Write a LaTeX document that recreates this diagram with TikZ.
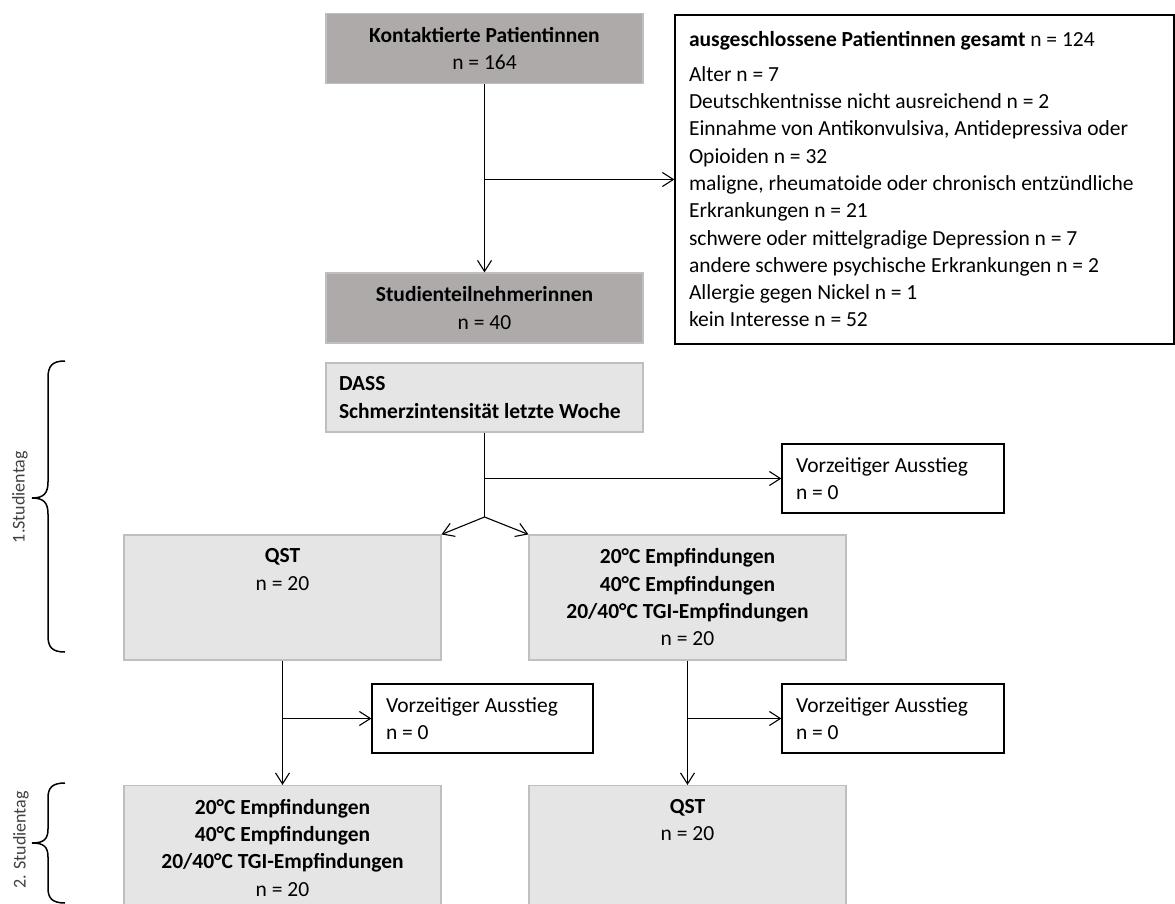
\documentclass[tikz,border=0pt]{standalone}
\usepackage{fontspec}
\setmainfont{Carlito}
\usetikzlibrary{positioning,arrows.meta}
\definecolor{darkfill}{HTML}{AEAAAA}
\definecolor{lightfill}{HTML}{E5E5E5}
\definecolor{boxline}{HTML}{BFBFBF}
\definecolor{daytext}{HTML}{404040}

\begin{document}
\begin{tikzpicture}[x=1pt,y=-1pt,
	every node/.style={font=\fontsize{21.5}{27.3}\selectfont},
	plainspace/.style={execute at begin node={\spaceskip=0pt\relax}},
	darkbox/.style={draw=boxline,line width=1.2pt,fill=darkfill,minimum width=317pt,minimum height=70pt,align=center,inner sep=0pt},
	lightbox/.style={draw=boxline,line width=1.2pt,fill=lightfill,minimum width=317pt,minimum height=125pt,inner sep=0pt},
	whitebox/.style={draw,line width=1.2pt,fill=white,align=left,plainspace,inner xsep=14pt,inner ysep=0pt},
	boxtext/.style={align=center,inner sep=0pt},
	arr/.style={-{Straight Barb[length=11pt,width=14pt]},line width=1.1pt},
	conn/.style={line width=1.1pt},
	daylabel/.style={rotate=90,text=daytext,font=\fontsize{18}{22}\selectfont},
	brace/.style={line width=1.5pt}]

		\clip (0,0) rectangle (1175,904);

		% recruitment
		\node[darkbox] (kontakt) at (484.5,48.5) {\textbf{Kontaktierte Patientinnen}\\n = 164};
		\node[darkbox] (teiln) at (484.5,308) {\textbf{Studienteilnehmerinnen}\\n = 40};
		\node[whitebox,text width=471pt,minimum height=329pt] (excl) at (924.5,179.5) {\textbf{ausgeschlossene Patientinnen gesamt} n = 124\\[7pt]
			Alter n = 7\\
			Deutschkentnisse nicht ausreichend n = 2\\
			Einnahme von Antikonvulsiva, Antidepressiva oder\\
			Opioiden n = 32\\
			maligne, rheumatoide oder chronisch entzündliche\\
			Erkrankungen n = 21\\
			schwere oder mittelgradige Depression n = 7\\
			andere schwere psychische Erkrankungen n = 2\\
			Allergie gegen Nickel n = 1\\
			kein Interesse n = 52};

		% day 1
		\node[lightbox,minimum height=69pt,align=left,plainspace,text width=291pt,inner xsep=13pt] (dass) at (484.5,397.5) {\textbf{DASS}\\\textbf{Schmerzintensität letzte Woche}};
		\node[whitebox,text width=194pt,minimum height=69pt] (drop1) at (893,478.5) {Vorzeitiger Ausstieg\\n = 0};
		\coordinate (fork) at (484.5,517);

		\node[lightbox] (qst1) at (282.5,597.5) {};
		\node[lightbox] (temp1) at (687.5,597.5) {};
		\node[boxtext,below=14pt of qst1.north] (qst1text) {\textbf{QST}\\n = 20};
		\node[boxtext,below=14pt of temp1.north] (temp1text) {\textbf{20°C Empfindungen}\\\textbf{40°C Empfindungen}\\\textbf{20/40°C TGI-Empfindungen}\\n = 20};

		% day 2
		\node[whitebox,text width=193pt,minimum height=69pt] (drop2) at (482.5,718.5) {Vorzeitiger Ausstieg\\n = 0};
		\node[whitebox,text width=194pt,minimum height=69pt] (drop3) at (893,718.5) {Vorzeitiger Ausstieg\\n = 0};

		\node[lightbox] (temp2) at (282.5,848) {};
		\node[lightbox] (qst2) at (687.5,848) {};
		\node[boxtext,below=14pt of temp2.north] (temp2text) {\textbf{20°C Empfindungen}\\\textbf{40°C Empfindungen}\\\textbf{20/40°C TGI-Empfindungen}\\n = 20};
		\node[boxtext,below=14pt of qst2.north] (qst2text) {\textbf{QST}\\n = 20};

		\draw[arr] (kontakt) -- (teiln);
		\draw[arr] (kontakt.south |- excl.west) -- (excl.west);
		\draw[conn] (dass) -- (fork);
		\draw[arr] (fork) -- (qst1.north east);
		\draw[arr] (fork) -- (temp1.north west);
		\draw[arr] (dass.south |- drop1.west) -- (drop1.west);
		\draw[arr] (qst1) -- (temp2);
		\draw[arr] (qst1.south |- drop2.west) -- (drop2.west);
		\draw[arr] (temp1) -- (qst2);
		\draw[arr] (temp1.south |- drop3.west) -- (drop3.west);

		% braces
		\draw[brace] (65,361) .. controls (52,361) and (48,366) .. (48,378) -- (48,482) .. controls (48,493) and (44,498) .. (32,498) .. controls (44,498) and (48,503) .. (48,514) -- (48,636) .. controls (48,647) and (52,652) .. (65,652);
		\draw[brace] (65,783) .. controls (52,783) and (48,788) .. (48,798) -- (48,829) .. controls (48,839) and (44,843) .. (32,843) .. controls (44,843) and (48,847) .. (48,857) -- (48,888) .. controls (48,898) and (52,903) .. (65,903);
		\node[daylabel] (day1) at (20,497) {1.Studientag};
		\node[daylabel] (day2) at (21,840) {2. Studientag};

	\end{tikzpicture}
\end{document}
